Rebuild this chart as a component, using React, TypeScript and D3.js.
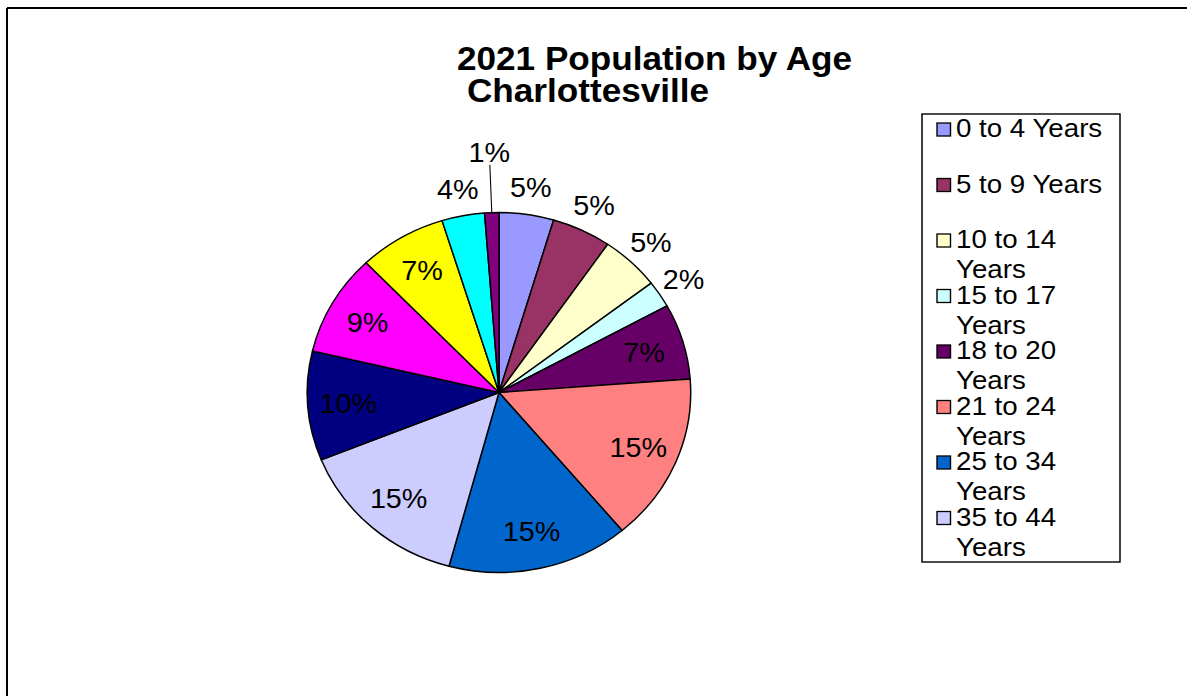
import React from "react";
import * as d3 from "d3";

// ---------- data ----------
const categories = [
  "0 to 4 Years",
  "5 to 9 Years",
  "10 to 14 Years",
  "15 to 17 Years",
  "18 to 20 Years",
  "21 to 24 Years",
  "25 to 34 Years",
  "35 to 44 Years",
  "45 to 54 Years",
  "55 to 64 Years",
  "65 to 74 Years",
  "75 to 84 Years",
  "85 Years and Over",
];
const shares = [4.6, 5.0, 5.0, 2.4, 6.8, 15.1, 15.3, 14.7, 9.8, 9.1, 7.4, 3.6, 1.2];
const colors = [
  "#9999FF",
  "#993366",
  "#FFFFCC",
  "#CCFFFF",
  "#660066",
  "#FF8080",
  "#0066CC",
  "#CCCCFF",
  "#000080",
  "#FF00FF",
  "#FFFF00",
  "#00FFFF",
  "#800080",
];
const titleLines = ["2021 Population by Age", "Charlottesville"];

// ---------- layout ----------
const W = 1187;
const H = 696;
const S = 1.065; // horizontal stretch of the picture
const FONT = "'Liberation Sans', Arial, Helvetica, sans-serif";
const cx = 499 / S;
const cy = 392.5;
const R = 180;
const legendBox = { x0: 922, y0: 114, x1: 1120, y1: 562 };
const legendFont = 26;
const labelFont = 27;

function measure(text: string, size: number): number {
  try {
    const c = document.createElement("canvas");
    const ctx = c.getContext("2d");
    if (ctx) {
      ctx.font = `${size}px ${FONT}`;
      return ctx.measureText(text).width;
    }
  } catch (e) {}
  return text.length * size * 0.5;
}

function wrap(text: string, maxW: number, size: number): string[] {
  if (measure(text, size) <= maxW) return [text];
  const words = text.split(" ");
  const lines: string[] = [];
  let cur = "";
  for (const w of words) {
    const t = cur ? cur + " " + w : w;
    if (cur && measure(t, size) > maxW) {
      lines.push(cur);
      cur = w;
    } else cur = t;
  }
  if (cur) lines.push(cur);
  return lines;
}

export default function App() {
  const data = categories.map((c, i) => ({ cat: c, v: shares[i], color: colors[i] }));
  const pie = d3
    .pie<any>()
    .sort(null)
    .value((d: any) => d.v)
    .startAngle(0)
    .endAngle(2 * Math.PI);
  const arcs = pie(data);
  const arcGen = d3.arc<any>().innerRadius(0).outerRadius(R);
  const inArc = d3.arc<any>().innerRadius(142).outerRadius(142);
  const outArc = d3.arc<any>().innerRadius(207).outerRadius(207);
  const farArc = d3.arc<any>().innerRadius(240).outerRadius(240);
  const edgeIn = d3.arc<any>().innerRadius(R).outerRadius(R);
  const edgeOut = d3.arc<any>().innerRadius(228).outerRadius(228);

  // legend
  const textX = 956 / S;
  const maxTextW = (legendBox.x1 - 956 - 3) / S;
  const step = 55.5;
  const firstY = 129.5;
  const legendItems = data
    .map((d, i) => {
      const yc = firstY + step * i;
      const lines = wrap(d.cat, maxTextW, legendFont);
      return { ...d, yc, lines };
    })
    .filter((it) => it.yc + 8 + (it.lines.length - 1) * 30 + 6 <= legendBox.y1);

  return (
    <svg
      width={W}
      height={H}
      style={{ position: "absolute", left: 0, top: 0, background: "#fff" }}
      fontFamily={FONT}
    >
      <rect x={0} y={0} width={W} height={H} fill="#fff" />
      {/* frame */}
      <line x1={7} y1={8} x2={W} y2={8} stroke="#000" strokeWidth={2} />
      <line x1={7} y1={8} x2={7} y2={H} stroke="#000" strokeWidth={2} />

      <g transform={`scale(${S},1)`}>
        {/* title */}
        <text x={457 / S} y={70} fontSize={33} fontWeight="bold" fill="#000">
          {titleLines[0]}
        </text>
        <text x={467 / S} y={102} fontSize={33} fontWeight="bold" fill="#000">
          {titleLines[1]}
        </text>

        {/* pie */}
        <g transform={`translate(${cx},${cy})`}>
          {arcs.map((a, i) => (
            <path
              key={i}
              d={arcGen(a) as string}
              fill={a.data.color}
              stroke="#000"
              strokeWidth={1.4}
              strokeLinejoin="round"
            />
          ))}
          {arcs.map((a, i) => {
            const v = a.data.v;
            const label = `${Math.round(v)}%`;
            if (v >= 6) {
              const [x, y] = inArc.centroid(a);
              return (
                <text key={"l" + i} x={x} y={y} dy="0.36em" textAnchor="middle" fontSize={labelFont} fill="#000">
                  {label}
                </text>
              );
            }
            if (v >= 2) {
              const [x, y] = outArc.centroid(a);
              return (
                <text key={"l" + i} x={x} y={y} dy="0.36em" textAnchor="middle" fontSize={labelFont} fill="#000">
                  {label}
                </text>
              );
            }
            const [x, y] = farArc.centroid(a);
            const [x1, y1] = edgeIn.centroid(a);
            const [x2, y2] = edgeOut.centroid(a);
            return (
              <g key={"l" + i}>
                <line x1={x1} y1={y1} x2={x2} y2={y2} stroke="#000" strokeWidth={1} />
                <text x={x} y={y} dy="0.36em" textAnchor="middle" fontSize={labelFont} fill="#000">
                  {label}
                </text>
              </g>
            );
          })}
        </g>

        {/* legend */}
        <rect
          x={legendBox.x0 / S}
          y={legendBox.y0}
          width={(legendBox.x1 - legendBox.x0) / S}
          height={legendBox.y1 - legendBox.y0}
          fill="#fff"
          stroke="#000"
          strokeWidth={1.4}
        />
        {legendItems.map((it, i) => (
          <g key={"lg" + i}>
            <rect
              x={937 / S}
              y={it.yc - 6.5}
              width={13.5 / S}
              height={13}
              fill={it.color}
              stroke="#000"
              strokeWidth={1.3}
            />
            {it.lines.map((ln, j) => (
              <text key={j} x={textX} y={it.yc + 8 + j * 30} fontSize={legendFont} fill="#000">
                {ln}
              </text>
            ))}
          </g>
        ))}
      </g>
    </svg>
  );
}
